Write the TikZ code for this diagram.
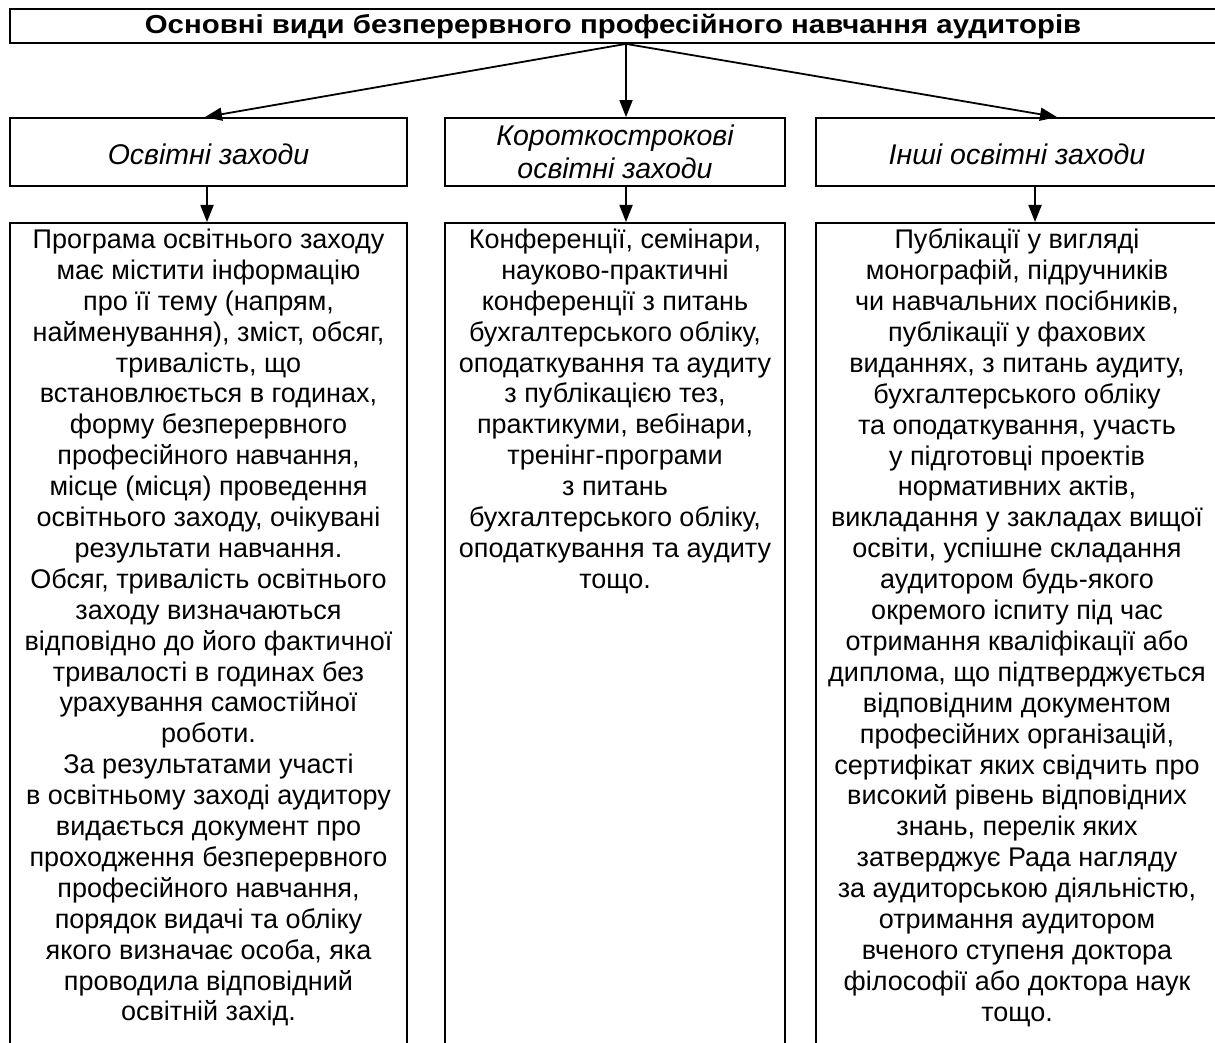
\documentclass[tikz,border=0pt]{standalone}
\usepackage{fontspec}
\setmainfont{Liberation Sans}
\usetikzlibrary{arrows.meta}
\begin{document}
\begin{tikzpicture}[x=1pt,y=-1pt,
  box/.style={draw,line width=1.8pt,inner sep=0pt},
  titlebox/.style={box,minimum width=1206pt,minimum height=34pt,text height=16pt,text depth=0pt,font=\bfseries\fontsize{26}{30}\selectfont\addfontfeatures{FakeStretch=1.13}},
  kindbox/.style={box,minimum height=68pt,align=center,font=\itshape\fontsize{28.5}{33}\selectfont},
  bodybox/.style={box,anchor=north,inner ysep=6pt,align=center,text depth=880pt,font=\fontsize{27}{30.9}\selectfont},
  arr/.style={-{Triangle[length=17pt,width=13pt]},line width=1.8pt}]
\useasboundingbox (0,0) rectangle (1215,1043);
\clip (0,0) rectangle (1215,1043);
% title
\node[titlebox] (title) at (613,26) {Основні види безперервного професійного навчання аудиторів};
\coordinate (fork) at ([xshift=13pt]title.south);
% kinds
\node[kindbox,minimum width=397pt,text height=26pt,text depth=0pt] (edu) at (208.5,152) {Освітні заходи};
\node[kindbox,minimum width=340pt] (short) at (615,152) {Короткострокові\\освітні заходи};
\node[kindbox,minimum width=402pt,text height=26pt,text depth=0pt] (other) at (1017,152) {Інші освітні заходи};
% bodies
\node[bodybox,minimum width=397pt] (edubody) at (208.5,222) {Програма освітнього заходу\\має містити інформацію\\про її тему (напрям,\\найменування), зміст, обсяг,\\тривалість, що\\встановлюється в годинах,\\форму безперервного\\професійного навчання,\\місце (місця) проведення\\освітнього заходу, очікувані\\результати навчання.\\Обсяг, тривалість освітнього\\заходу визначаються\\відповідно до його фактичної\\тривалості в годинах без\\урахування самостійної\\роботи.\\За результатами участі\\в освітньому заході аудитору\\видається документ про\\проходження безперервного\\професійного навчання,\\порядок видачі та обліку\\якого визначає особа, яка\\проводила відповідний\\освітній захід.};
\node[bodybox,minimum width=340pt] (shortbody) at (615,222) {Конференції, семінари,\\науково-практичні\\конференції з питань\\бухгалтерського обліку,\\оподаткування та аудиту\\з публікацією тез,\\практикуми, вебінари,\\тренінг-програми\\з питань\\бухгалтерського обліку,\\оподаткування та аудиту\\тощо.};
\node[bodybox,minimum width=402pt] (otherbody) at (1017,222) {Публікації у вигляді\\монографій, підручників\\чи навчальних посібників,\\публікації у фахових\\виданнях, з питань аудиту,\\бухгалтерського обліку\\та оподаткування, участь\\у підготовці проектів\\нормативних актів,\\викладання у закладах вищої\\освіти, успішне складання\\аудитором будь-якого\\окремого іспиту під час\\отримання кваліфікації або\\диплома, що підтверджується\\відповідним документом\\професійних організацій,\\сертифікат яких свідчить про\\високий рівень відповідних\\знань, перелік яких\\затверджує Рада нагляду\\за аудиторською діяльністю,\\отримання аудитором\\вченого ступеня доктора\\філософії або доктора наук\\тощо.};
% arrows
\draw[arr] (fork) -- ([xshift=-3.5pt]edu.north);
\draw[arr] (fork) -- (short.north -| fork);
\draw[arr] (fork) -- ([xshift=40pt]other.north);
\draw[arr] ([xshift=-1.5pt]edu.south) -- ([xshift=-1.5pt]edubody.north);
\draw[arr] (short.south -| fork) -- (shortbody.north -| fork);
\draw[arr] ([xshift=18pt]other.south) -- ([xshift=18pt]otherbody.north);
\end{tikzpicture}
\end{document}
